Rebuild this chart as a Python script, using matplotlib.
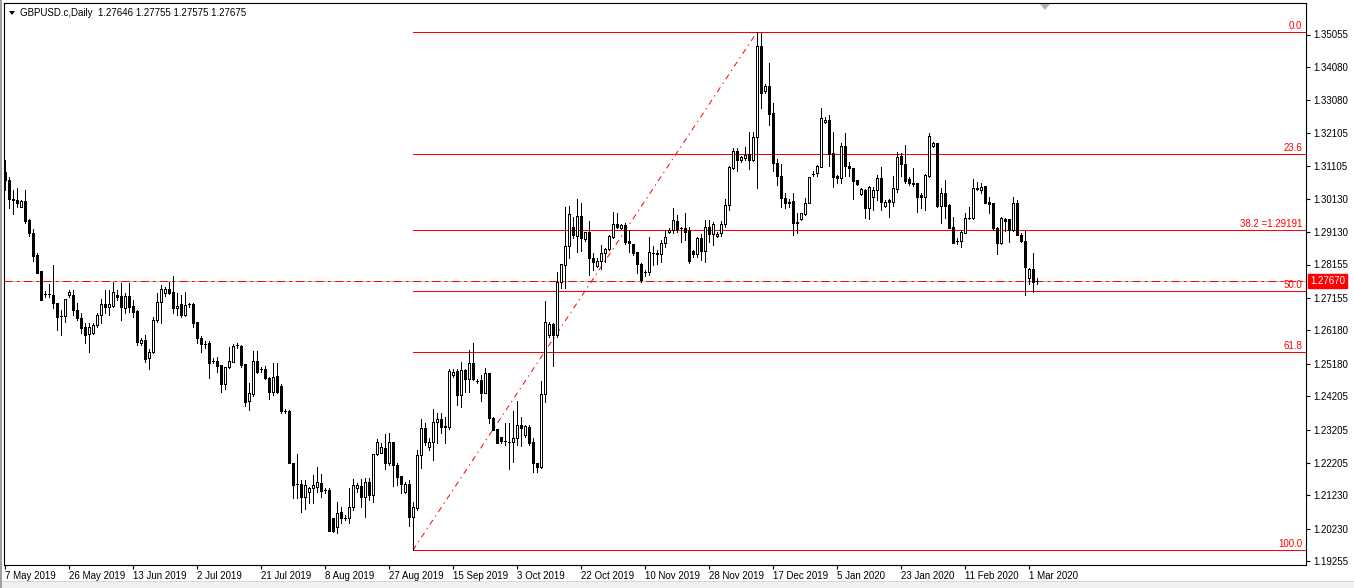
import matplotlib
matplotlib.use("Agg")
import matplotlib.pyplot as plt
from matplotlib.patches import Rectangle, Polygon
from matplotlib.collections import LineCollection, PatchCollection
from matplotlib.transforms import blended_transform_factory

plt.rcParams['font.family'] = ['Liberation Sans', 'DejaVu Sans']
plt.rcParams['lines.scale_dashes'] = False

header = "GBPUSD.c,Daily  1.27646 1.27755 1.27575 1.27675"

opens = [1.3093, 1.3069, 1.3012, 1.3009, 1.2988, 1.3006, 1.2949, 1.2910, 1.2844, 1.2796,
         1.2727, 1.2727, 1.2724, 1.2700, 1.2661, 1.2661, 1.2724, 1.2724, 1.2679, 1.2655,
         1.2628, 1.2607, 1.2610, 1.2634, 1.2664, 1.2697, 1.2688, 1.2691, 1.2724, 1.2721,
         1.2685, 1.2721, 1.2691, 1.2676, 1.2580, 1.2589, 1.2535, 1.2553, 1.2649, 1.2703,
         1.2730, 1.2742, 1.2733, 1.2685, 1.2697, 1.2664, 1.2697, 1.2697, 1.2643, 1.2595,
         1.2577, 1.2580, 1.2526, 1.2526, 1.2514, 1.2457, 1.2508, 1.2523, 1.2574, 1.2571,
         1.2517, 1.2406, 1.2427, 1.2526, 1.2502, 1.2502, 1.2475, 1.2433, 1.2481, 1.2451,
         1.2376, 1.2376, 1.2220, 1.2157, 1.2157, 1.2118, 1.2133, 1.2145, 1.2148, 1.2160,
         1.2139, 1.2139, 1.2055, 1.2028, 1.2073, 1.2055, 1.2055, 1.2088, 1.2145, 1.2151,
         1.2118, 1.2163, 1.2124, 1.2247, 1.2250, 1.2265, 1.2220, 1.2283, 1.2214, 1.2181,
         1.2133, 1.2157, 1.2058, 1.2085, 1.2244, 1.2325, 1.2268, 1.2283, 1.2343, 1.2352,
         1.2331, 1.2328, 1.2484, 1.2496, 1.2424, 1.2499, 1.2472, 1.2520, 1.2466, 1.2469,
         1.2430, 1.2490, 1.2355, 1.2322, 1.2298, 1.2286, 1.2283, 1.2283, 1.2295, 1.2334,
         1.2304, 1.2328, 1.2283, 1.2220, 1.2208, 1.2427, 1.2604, 1.2637, 1.2604, 1.2763,
         1.2814, 1.2871, 1.2928, 1.2901, 1.2961, 1.2892, 1.2913, 1.2835, 1.2811, 1.2826,
         1.2850, 1.2862, 1.2898, 1.2937, 1.2925, 1.2934, 1.2886, 1.2877, 1.2853, 1.2817,
         1.2793, 1.2793, 1.2850, 1.2850, 1.2847, 1.2880, 1.2913, 1.2919, 1.2946, 1.2925,
         1.2925, 1.2919, 1.2856, 1.2847, 1.2895, 1.2856, 1.2928, 1.2907, 1.2901, 1.2910,
         1.2937, 1.2994, 1.3105, 1.3156, 1.3129, 1.3135, 1.3147, 1.3129, 1.3198, 1.3471,
         1.3336, 1.3351, 1.3270, 1.3120, 1.3081, 1.3015, 1.3003, 1.3006, 1.2943, 1.2952,
         1.2967, 1.3000, 1.3087, 1.3090, 1.3108, 1.3243, 1.3249, 1.3150, 1.3081, 1.3075,
         1.3171, 1.3111, 1.3105, 1.3069, 1.3027, 1.3039, 1.2985, 1.3018, 1.3039, 1.3075,
         1.2991, 1.3009, 1.3003, 1.3042, 1.3141, 1.3117, 1.3072, 1.3060, 1.3060, 1.3024,
         1.3018, 1.3081, 1.3171, 1.3180, 1.2991, 1.3030, 1.2994, 1.2928, 1.2886, 1.2886,
         1.2910, 1.2955, 1.2955, 1.3045, 1.3039, 1.3051, 1.3003, 1.3000, 1.2925, 1.2880,
         1.2952, 1.2952, 1.2919, 1.3000, 1.2904, 1.2886, 1.2775, 1.2802, 1.27646]

highs = [1.3129, 1.3078, 1.3039, 1.3045, 1.3009, 1.3039, 1.2952, 1.2922, 1.2850, 1.2796,
         1.2736, 1.2757, 1.2814, 1.2700, 1.2679, 1.2712, 1.2739, 1.2739, 1.2700, 1.2670,
         1.2640, 1.2640, 1.2640, 1.2670, 1.2712, 1.2739, 1.2739, 1.2763, 1.2739, 1.2760,
         1.2730, 1.2760, 1.2709, 1.2679, 1.2595, 1.2604, 1.2562, 1.2658, 1.2730, 1.2754,
         1.2748, 1.2763, 1.2781, 1.2730, 1.2724, 1.2733, 1.2700, 1.2700, 1.2643, 1.2601,
         1.2586, 1.2586, 1.2535, 1.2538, 1.2514, 1.2508, 1.2568, 1.2577, 1.2580, 1.2574,
         1.2517, 1.2460, 1.2556, 1.2556, 1.2508, 1.2511, 1.2478, 1.2520, 1.2520, 1.2457,
         1.2382, 1.2379, 1.2220, 1.2247, 1.2169, 1.2169, 1.2148, 1.2184, 1.2208, 1.2187,
         1.2145, 1.2145, 1.2055, 1.2103, 1.2088, 1.2064, 1.2145, 1.2172, 1.2160, 1.2172,
         1.2175, 1.2175, 1.2247, 1.2292, 1.2280, 1.2307, 1.2310, 1.2283, 1.2220, 1.2181,
         1.2163, 1.2169, 1.2103, 1.2259, 1.2352, 1.2340, 1.2295, 1.2382, 1.2370, 1.2370,
         1.2358, 1.2502, 1.2502, 1.2502, 1.2523, 1.2502, 1.2559, 1.2580, 1.2472, 1.2484,
         1.2505, 1.2490, 1.2358, 1.2322, 1.2298, 1.2340, 1.2340, 1.2376, 1.2406, 1.2358,
         1.2334, 1.2334, 1.2295, 1.2220, 1.2466, 1.2706, 1.2643, 1.2640, 1.2793, 1.2817,
         1.2988, 1.2991, 1.2958, 1.3012, 1.3000, 1.2913, 1.2946, 1.2850, 1.2835, 1.2874,
         1.2865, 1.2904, 1.2973, 1.2970, 1.2937, 1.2940, 1.2919, 1.2877, 1.2853, 1.2820,
         1.2799, 1.2898, 1.2871, 1.2859, 1.2889, 1.2919, 1.2925, 1.2985, 1.2964, 1.2928,
         1.2970, 1.2928, 1.2859, 1.2898, 1.2907, 1.2949, 1.2949, 1.2943, 1.2913, 1.2946,
         1.3012, 1.3111, 1.3165, 1.3165, 1.3141, 1.3168, 1.3213, 1.3213, 1.35127, 1.3510,
         1.3357, 1.3420, 1.3300, 1.3132, 1.3117, 1.3030, 1.3012, 1.3030, 1.2970, 1.2970,
         1.3015, 1.3078, 1.3096, 1.3114, 1.3285, 1.3258, 1.3264, 1.3213, 1.3084, 1.3180,
         1.3210, 1.3123, 1.3105, 1.3069, 1.3045, 1.3042, 1.3051, 1.3048, 1.3084, 1.3108,
         1.3009, 1.3012, 1.3081, 1.3153, 1.3150, 1.3174, 1.3078, 1.3105, 1.3060, 1.3030,
         1.3087, 1.3210, 1.3183, 1.3180, 1.3045, 1.3069, 1.2997, 1.2958, 1.2895, 1.2919,
         1.2970, 1.2988, 1.3072, 1.3063, 1.3060, 1.3051, 1.3018, 1.3000, 1.2928, 1.2958,
         1.2955, 1.2952, 1.3018, 1.3009, 1.2910, 1.2916, 1.2805, 1.2850, 1.27755]

lows = [1.3039, 1.2985, 1.2967, 1.2988, 1.2988, 1.2940, 1.2901, 1.2826, 1.2790, 1.2709,
        1.2718, 1.2718, 1.2685, 1.2619, 1.2604, 1.2643, 1.2718, 1.2664, 1.2649, 1.2610,
        1.2580, 1.2553, 1.2607, 1.2628, 1.2640, 1.2670, 1.2664, 1.2688, 1.2709, 1.2649,
        1.2670, 1.2673, 1.2658, 1.2574, 1.2574, 1.2523, 1.2502, 1.2550, 1.2643, 1.2640,
        1.2721, 1.2727, 1.2670, 1.2664, 1.2658, 1.2661, 1.2688, 1.2628, 1.2580, 1.2553,
        1.2565, 1.2475, 1.2520, 1.2493, 1.2433, 1.2442, 1.2505, 1.2523, 1.2565, 1.2508,
        1.2391, 1.2379, 1.2421, 1.2490, 1.2493, 1.2472, 1.2412, 1.2424, 1.2430, 1.2370,
        1.2370, 1.2220, 1.2115, 1.2115, 1.2073, 1.2082, 1.2100, 1.2100, 1.2133, 1.2118,
        1.2130, 1.2016, 1.2013, 1.2010, 1.2040, 1.2049, 1.2040, 1.2079, 1.2133, 1.2088,
        1.2058, 1.2109, 1.2103, 1.2244, 1.2250, 1.2202, 1.2214, 1.2151, 1.2154, 1.2130,
        1.2130, 1.2031, 1.19588, 1.2079, 1.2205, 1.2274, 1.2259, 1.2229, 1.2280, 1.2310,
        1.2280, 1.2322, 1.2478, 1.2394, 1.2388, 1.2433, 1.2433, 1.2469, 1.2460, 1.2406,
        1.2430, 1.2340, 1.2319, 1.2280, 1.2280, 1.2274, 1.2202, 1.2223, 1.2274, 1.2271,
        1.2298, 1.2274, 1.2193, 1.2193, 1.2205, 1.2403, 1.2598, 1.2511, 1.2598, 1.2745,
        1.2745, 1.2835, 1.2895, 1.2853, 1.2856, 1.2886, 1.2784, 1.2799, 1.2808, 1.2802,
        1.2823, 1.2859, 1.2895, 1.2925, 1.2922, 1.2877, 1.2853, 1.2844, 1.2790, 1.2763,
        1.2781, 1.2784, 1.2814, 1.2817, 1.2823, 1.2868, 1.2910, 1.2910, 1.2913, 1.2883,
        1.2889, 1.2820, 1.2838, 1.2838, 1.2829, 1.2823, 1.2883, 1.2874, 1.2898, 1.2901,
        1.2928, 1.2979, 1.3102, 1.3096, 1.3123, 1.3129, 1.3102, 1.3126, 1.3045, 1.3285,
        1.3330, 1.3234, 1.3096, 1.3054, 1.2988, 1.2985, 1.2988, 1.2904, 1.2910, 1.2949,
        1.2964, 1.3000, 1.3081, 1.3081, 1.3108, 1.3240, 1.3111, 1.3048, 1.3060, 1.3060,
        1.3081, 1.3081, 1.3012, 1.3054, 1.3024, 1.2955, 1.2952, 1.2979, 1.3009, 1.2979,
        1.2988, 1.2958, 1.2991, 1.3033, 1.3081, 1.3060, 1.3054, 1.3051, 1.2973, 1.2985,
        1.2979, 1.3078, 1.3168, 1.2988, 1.2940, 1.2955, 1.2925, 1.2880, 1.2877, 1.2868,
        1.2910, 1.2952, 1.2952, 1.3039, 1.3030, 1.3000, 1.2970, 1.2919, 1.2847, 1.2877,
        1.2916, 1.2883, 1.2916, 1.2904, 1.2883, 1.2724, 1.2757, 1.2733, 1.27575]

closes = [1.3069, 1.3012, 1.3009, 1.3000, 1.3006, 1.2946, 1.2910, 1.2841, 1.2790, 1.2709,
          1.2727, 1.2727, 1.2700, 1.2658, 1.2661, 1.2712, 1.2733, 1.2679, 1.2655, 1.2625,
          1.2604, 1.2628, 1.2634, 1.2664, 1.2697, 1.2688, 1.2697, 1.2733, 1.2718, 1.2688,
          1.2721, 1.2688, 1.2673, 1.2583, 1.2589, 1.2532, 1.2553, 1.2649, 1.2703, 1.2742,
          1.2742, 1.2730, 1.2685, 1.2691, 1.2664, 1.2694, 1.2697, 1.2640, 1.2595, 1.2577,
          1.2577, 1.2520, 1.2526, 1.2511, 1.2457, 1.2508, 1.2526, 1.2571, 1.2574, 1.2514,
          1.2403, 1.2430, 1.2526, 1.2493, 1.2502, 1.2475, 1.2433, 1.2478, 1.2433, 1.2376,
          1.2376, 1.2220, 1.2154, 1.2157, 1.2118, 1.2154, 1.2145, 1.2154, 1.2163, 1.2136,
          1.2139, 1.2016, 1.2016, 1.2070, 1.2055, 1.2055, 1.2088, 1.2154, 1.2154, 1.2118,
          1.2163, 1.2124, 1.2247, 1.2283, 1.2268, 1.2220, 1.2283, 1.2214, 1.2178, 1.2157,
          1.2157, 1.2058, 1.2088, 1.2244, 1.2325, 1.2283, 1.2283, 1.2343, 1.2352, 1.2328,
          1.2328, 1.2496, 1.2493, 1.2424, 1.2499, 1.2472, 1.2520, 1.2472, 1.2466, 1.2430,
          1.2490, 1.2355, 1.2319, 1.2280, 1.2286, 1.2286, 1.2283, 1.2295, 1.2334, 1.2325,
          1.2331, 1.2280, 1.2220, 1.2208, 1.2427, 1.2643, 1.2637, 1.2604, 1.2763, 1.2817,
          1.2871, 1.2967, 1.2904, 1.2961, 1.2895, 1.2913, 1.2835, 1.2823, 1.2826, 1.2850,
          1.2862, 1.2901, 1.2937, 1.2928, 1.2934, 1.2883, 1.2880, 1.2850, 1.2817, 1.2769,
          1.2793, 1.2853, 1.2850, 1.2847, 1.2880, 1.2898, 1.2919, 1.2949, 1.2922, 1.2925,
          1.2913, 1.2826, 1.2847, 1.2895, 1.2856, 1.2928, 1.2907, 1.2937, 1.2907, 1.2937,
          1.2994, 1.3108, 1.3156, 1.3129, 1.3138, 1.3144, 1.3129, 1.3198, 1.3471, 1.3330,
          1.3351, 1.3267, 1.3120, 1.3081, 1.3015, 1.3000, 1.3000, 1.2940, 1.2940, 1.2970,
          1.3000, 1.3078, 1.3087, 1.3111, 1.3255, 1.3249, 1.3147, 1.3078, 1.3075, 1.3171,
          1.3111, 1.3105, 1.3066, 1.3057, 1.3042, 1.2985, 1.3048, 1.3039, 1.3075, 1.3003,
          1.3003, 1.3003, 1.3045, 1.3138, 1.3117, 1.3066, 1.3060, 1.3057, 1.3018, 1.3018,
          1.3084, 1.3201, 1.3180, 1.2991, 1.3030, 1.2991, 1.2925, 1.2880, 1.2886, 1.2913,
          1.2955, 1.2955, 1.3045, 1.3042, 1.3048, 1.3000, 1.2997, 1.2925, 1.2880, 1.2955,
          1.2946, 1.2919, 1.3000, 1.2904, 1.2886, 1.2808, 1.2802, 1.2763, 1.27675]

date_labels = ["7 May 2019", "26 May 2019", "13 Jun 2019", "2 Jul 2019", "21 Jul 2019",
               "8 Aug 2019", "27 Aug 2019", "15 Sep 2019", "3 Oct 2019", "22 Oct 2019",
               "10 Nov 2019", "28 Nov 2019", "17 Dec 2019", "5 Jan 2020", "23 Jan 2020",
               "11 Feb 2020", "1 Mar 2020"]
date_label_bars = [0, 16, 32, 48, 64, 80, 96, 112, 128, 144, 160, 176, 192, 208, 224, 240, 256]

price_ticks = [1.35055, 1.34080, 1.33080, 1.32105, 1.31105, 1.30130, 1.29130, 1.28155,
               1.27155, 1.26180, 1.25180, 1.24205, 1.23205, 1.22205, 1.21230, 1.20230, 1.19255]

bid_price = 1.27670
fib_levels = [0.0, 23.6, 38.2, 50.0, 61.8, 100.0]
fib_low_bar, fib_high_bar = 102, 188
fib_low, fib_high = 1.19588, 1.35127

W, H = 1354, 588
fig = plt.figure(figsize=(W / 100, H / 100), dpi=100)
fig.patch.set_facecolor('white')
L, R, T, B = 4, 1306, 3, 565
ax = fig.add_axes([L / W, 1 - B / H, (R - L) / W, (B - T) / H])
ax.set_xlim(-0.25, 325.25)
ax.set_ylim(1.19140, 1.36000)
ax.set_facecolor('white')
for s in ax.spines.values():
    s.set_color('black')
    s.set_linewidth(0.8)

px = 0.72
n = len(closes)
xs = list(range(n))

# wicks
segs = [[(i, lows[i]), (i, highs[i])] for i in xs]
ax.add_collection(LineCollection(segs, colors='black', linewidths=px, antialiased=False, zorder=3))
# bodies
bw = 0.5
rects_up, rects_dn = [], []
for i in xs:
    o, c = opens[i], closes[i]
    r = Rectangle((i - bw / 2, min(o, c)), bw, abs(c - o))
    (rects_up if c >= o else rects_dn).append(r)
ax.add_collection(PatchCollection(rects_up, facecolor='white', edgecolor='black', linewidths=px,
                                  antialiased=False, zorder=4))
ax.add_collection(PatchCollection(rects_dn, facecolor='black', edgecolor='black', linewidths=px,
                                  antialiased=False, zorder=4))

# bid line
ax.axhline(bid_price, color='#c0c0c0', lw=px, zorder=2)
ax.axhline(bid_price, color='#ff0000', lw=px, linestyle=(0, (6, 3, 2, 3)), zorder=2)

# fibonacci
rng = fib_high - fib_low
for lv in fib_levels:
    p = fib_high - lv / 100 * rng
    ax.plot([fib_low_bar, 325.25], [p, p], color='#ff0000', lw=px, zorder=2, antialiased=False)
    txt = "%.1f" % lv
    if lv == 38.2:
        txt = "38.2 =%.5f" % p
    ax.text(324.3, p + 0.0003, txt, color='#ff0000', fontsize=7, ha='right', va='bottom', zorder=5)
ax.plot([fib_low_bar, fib_high_bar], [fib_low, fib_high], color='#ff0000', lw=px,
        linestyle=(0, (4, 3, 1, 3)), zorder=2)

# axes ticks
ax.yaxis.tick_right()
ax.set_yticks(price_ticks)
ax.set_yticklabels(["%.5f" % v for v in price_ticks])
ax.tick_params(axis='y', direction='out', length=3, width=0.8, pad=2, labelsize=7, colors='black')
ax.set_xticks(date_label_bars)
ax.set_xticklabels(date_labels, ha='left')
ax.tick_params(axis='x', direction='out', length=3, width=0.8, pad=1.5, labelsize=7, colors='black')
for lab in ax.get_xticklabels():
    lab.set_horizontalalignment('left')

# bid price box
tr = blended_transform_factory(ax.transAxes, ax.transData)
ax.text(1.0 + 4 / (R - L), bid_price, "%.5f" % bid_price, transform=tr, color='white', fontsize=7,
        ha='left', va='center', clip_on=False, zorder=6,
        bbox=dict(boxstyle='square,pad=0.2', facecolor='#ff0000', edgecolor='#ff0000'))

# header
fig.text(20 / W, 1 - 13 / H, header, fontsize=7, ha='left', va='center', color='black')
fig.patches.append(Polygon([[9 / W, 1 - 11 / H], [15 / W, 1 - 11 / H], [12 / W, 1 - 15 / H]],
                           closed=True, transform=fig.transFigure, facecolor='black', edgecolor='none'))
# shift marker
fig.patches.append(Polygon([[1040 / W, 1 - 4 / H], [1050 / W, 1 - 4 / H], [1045 / W, 1 - 10 / H]],
                           closed=True, transform=fig.transFigure, facecolor='#b0b0b0', edgecolor='none'))
# window border strips
fig.patches.append(Rectangle((0, 0), 1, 6 / H, transform=fig.transFigure,
                             facecolor='#f0f0f0', edgecolor='none', zorder=-1))
fig.patches.append(Rectangle((0, 6 / H), 1, 1 / H, transform=fig.transFigure,
                             facecolor='#d8d8d8', edgecolor='none', zorder=-1))
fig.patches.append(Rectangle((0, 0), 2 / W, 1, transform=fig.transFigure,
                             facecolor='#a0a0a0', edgecolor='none', zorder=-1))

fig.savefig('out.png', dpi=100, facecolor=fig.get_facecolor())
